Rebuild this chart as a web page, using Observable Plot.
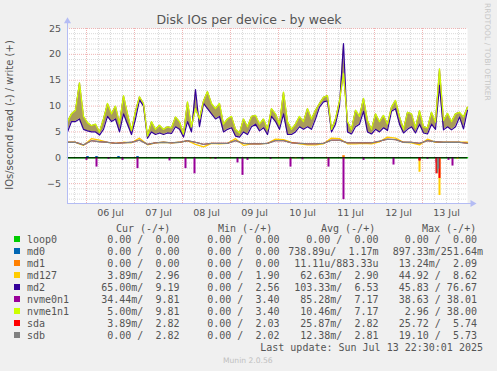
<!DOCTYPE html>
<html><head><meta charset="utf-8">
<script src="https://cdn.jsdelivr.net/npm/d3@7"></script>
<script src="https://cdn.jsdelivr.net/npm/@observablehq/plot@0.6"></script>
<style>
body{margin:0;background:#f0f0f0;}
#wrap{position:relative;width:497px;height:371px;overflow:hidden;background:#f0f0f0;}
#chart{position:absolute;left:0;top:0;}
#over{position:absolute;left:0;top:0;pointer-events:none;}
</style></head><body>
<div id="wrap"><div id="chart"></div><svg id="over" width="497" height="371"></svg></div>
<script>
// ---- time frame ----
const startTime = new Date("2025-07-05T14:30:00Z");
const endTime = new Date("2025-07-13T22:30:00Z");
const writeStepHours = 2;   // sampling of the write series below
const levelStepHours = 4;   // sampling of the ~3 IO/s series

// ---- write (+) series, IOs/second ----
const nvme1n1Write = [7.0,8.5,9.2,14.5,8.0,6.8,6.2,6.5,5.0,7.5,
  10.5,8.5,10.0,6.6,12.0,8.5,5.3,9.0,11.8,10.5,
  4.2,7.0,5.5,6.3,5.5,6.0,5.8,7.9,7.0,4.6,
  10.8,6.0,9.5,7.5,11.0,12.8,10.5,9.5,10.5,6.5,
  7.5,8.0,5.5,4.8,7.5,6.0,8.0,8.2,6.5,7.5,
  5.5,9.5,8.5,6.5,12.7,7.0,5.5,6.5,8.0,7.0,
  9.5,7.5,9.2,10.5,11.7,12.0,5.5,7.5,11.0,16.3,
  7.0,5.5,9.2,8.0,11.5,7.2,5.5,8.5,7.0,8.2,
  6.5,9.8,11.1,8.0,5.5,8.8,8.5,5.8,9.1,6.0,
  5.8,8.8,6.9,17.2,7.2,8.6,7.0,8.5,8.8,7.9,
  9.8];
const nvme0n1Write = nvme1n1Write; // mirrored pair, identical writes
const md2Write = [5.0,7.0,7.0,7.5,5.5,5.2,5.0,5.0,4.4,5.5,
  8.0,7.0,7.5,5.0,8.5,6.5,4.5,7.5,11.2,10.0,
  3.8,5.0,4.5,4.8,4.5,4.8,4.7,6.0,5.5,4.0,
  7.0,5.0,13.2,6.0,10.5,9.5,8.5,7.5,8.0,5.0,
  5.5,5.8,4.2,4.0,5.0,4.5,6.0,6.5,5.2,5.8,
  4.5,8.0,7.0,5.5,8.5,4.5,4.5,5.0,6.0,5.5,
  6.0,5.5,7.5,9.8,10.8,11.0,5.0,6.5,10.0,22.1,
  5.0,4.6,6.0,6.5,9.0,5.0,4.6,5.5,5.0,5.8,
  5.3,9.0,9.5,6.5,4.8,5.5,6.0,4.8,6.5,4.8,
  4.6,6.5,5.5,14.0,5.4,6.0,5.4,6.0,7.9,5.6,
  9.2];
const md127Write = [3.0,3.0,2.4,3.7,3.4,3.0,2.8,3.0,2.9,3.8,
  2.5,2.9,3.0,2.9,3.0,3.3,2.6,2.1,2.8,2.7,
  2.8,3.7,2.4,2.7,2.7,2.8,3.6,3.5,3.0,2.7,
  2.5,2.5,2.7,3.8,3.7,2.7,2.7,2.8,2.7,3.1,
  4.0,3.8,3.0,2.9,2.5,3.6,3.0,3.0,3.0,3.0,
  3.0];
const sdbWrite = [3.0,3.0,2.5,3.3,3.1,3.0,2.8,2.9,3.0,3.4,
  2.6,2.9,3.0,2.9,3.0,3.3,3.0,2.6,2.8,2.8,
  2.8,3.3,2.8,2.7,2.7,2.8,3.3,3.3,2.9,2.8,
  2.7,2.7,2.8,3.4,3.4,2.9,2.9,2.9,2.9,3.2,
  3.6,3.5,3.0,3.0,2.8,3.3,3.1,3.0,3.0,3.0,
  2.8];
const sdaWrite = sdbWrite; // mirrored pair

// ---- sparse spikes (read shown as negative) ----
const nvme0n1ReadTimes = ["2025-07-06T00:00Z","2025-07-06T05:00Z","2025-07-06T11:00Z","2025-07-06T18:00Z","2025-07-07T01:30Z","2025-07-07T17:30Z","2025-07-08T01:30Z","2025-07-08T06:00Z","2025-07-08T16:30Z","2025-07-09T03:30Z","2025-07-09T06:00Z","2025-07-09T08:30Z","2025-07-09T20:00Z","2025-07-10T06:00Z","2025-07-10T12:00Z","2025-07-11T01:00Z","2025-07-11T08:30Z","2025-07-11T18:30Z","2025-07-12T09:30Z","2025-07-12T22:30Z","2025-07-13T02:30Z","2025-07-13T07:00Z","2025-07-13T13:00Z","2025-07-13T15:00Z"];
const nvme0n1ReadValues = [-0.5,-1.8,-0.3,-0.5,-2.1,-0.6,-2.1,-3.1,-0.3,-1.0,-3.4,-0.5,-0.3,-1.8,-0.4,-1.8,-8.1,-0.5,-1.4,-0.6,-0.3,-1.0,-0.5,-1.6];
const md127ReadTimes = ["2025-07-06T05:00Z","2025-07-07T01:30Z","2025-07-08T01:30Z","2025-07-10T06:00Z","2025-07-10T08:30Z","2025-07-11T01:00Z","2025-07-11T08:30Z","2025-07-12T22:30Z","2025-07-13T08:30Z","2025-07-13T17:30Z"];
const md127ReadValues = [-0.3,-0.4,-0.3,-0.4,-0.2,-0.5,-0.4,-2.8,-7.3,-0.3];
const sdaReadTimes = ["2025-07-08T14:00Z","2025-07-12T22:30Z","2025-07-13T07:00Z","2025-07-13T08:30Z"];
const sdaReadValues = [-0.2,-0.6,-3.1,-4.0];
const sdbReadTimes = ["2025-07-13T07:30Z","2025-07-13T08:00Z"];
const sdbReadValues = [-3.0,-2.2];
const md0WriteTimes = ["2025-07-06T00:30Z","2025-07-06T05:00Z","2025-07-06T16:00Z","2025-07-07T01:30Z"];
const md0WriteValues = [0.25,0.25,0.25,0.25];
const md1WriteTimes = ["2025-07-11T08:30Z"];
const md1WriteValues = [0.4];

// ---- axes ----
const yDomain = [-8.84, 25];
const yTicks = [-5, 0, 5, 10, 15, 20, 25];
const dayTicks = ["2025-07-06","2025-07-07","2025-07-08","2025-07-09","2025-07-10","2025-07-11","2025-07-12","2025-07-13"];
const xTickLabels = ["06 Jul","07 Jul","08 Jul","09 Jul","10 Jul","11 Jul","12 Jul","13 Jul"];

// ---- legend ----
const names = ["loop0","md0","md1","md127","md2","nvme0n1","nvme1n1","sda","sdb"];
const colors = ["#00cc00","#0066b3","#ff8000","#ffcc00","#330099","#990099","#ccff00","#ff0000","#808080"];
const curText = ["0.00 /  0.00","0.00 /  0.00","0.00 /  0.00","3.89m/  2.96","65.00m/  9.19","34.44m/  9.81","5.00m/  9.81","3.89m/  2.82","0.00 /  2.82"];
const minText = ["0.00 /  0.00","0.00 /  0.00","0.00 /  0.00","0.00 /  1.90","0.00 /  2.56","0.00 /  3.40","0.00 /  3.40","0.00 /  2.03","0.00 /  2.02"];
const avgText = ["0.00 /  0.00","738.89u/  1.17m","11.11u/883.33u","62.63m/  2.90","103.33m/  6.53","85.28m/  7.17","10.46m/  7.17","25.87m/  2.82","12.38m/  2.81"];
const maxText = ["0.00 /  0.00 ","897.33m/251.64m","13.24m/  2.09 ","44.92 /  8.62 ","45.83 / 76.67 ","38.63 / 38.01 ","2.96 / 38.00 ","25.72 /  5.74 ","19.10 /  5.73 "];
const headers = ["Cur (-/+)","Min (-/+)","Avg (-/+)","Max (-/+)"];

// ---- build tables ----
const hour = 3600e3;
const writeRows = nvme1n1Write.map((v, i) => ({
  t: new Date(startTime.getTime() + i * writeStepHours * hour),
  nvme1n1: v, nvme0n1: nvme0n1Write[i], md2: md2Write[i]
}));
const levelRows = md127Write.map((v, i) => ({
  t: new Date(startTime.getTime() + i * levelStepHours * hour),
  md127: v, sdb: sdbWrite[i], sda: sdaWrite[i]
}));
const spikes = (times, values) => times.map((s, i) => ({t: new Date(s), v: values[i]}));
const midnights = dayTicks.map(d => new Date(d + "T00:00:00Z"));
const noons = dayTicks.map(d => new Date(d + "T12:00:00Z"));
const labelOf = new Map(noons.map((d, i) => [d.getTime(), xTickLabels[i]]));
const sixHours = d3.utcHour.every(6).range(startTime, endTime).filter(d => d.getUTCHours() !== 0);
const minorY = d3.range(-8, 26).filter(v => v % 5 !== 0);
const majorY = yTicks.filter(v => v !== 0);

const grid = "#dadada", red = "#efb4b4";
const chart = Plot.plot({
  width: 497, height: 220,
  marginLeft: 67, marginRight: 30, marginTop: 28, marginBottom: 17,
  style: {background: "transparent", color: "#555", fontFamily: "DejaVu Sans", fontSize: "9.5px"},
  x: {type: "utc", domain: [startTime, endTime]},
  y: {domain: yDomain},
  marks: [
    Plot.frame({fill: "white", stroke: null}),
    Plot.ruleY(minorY, {stroke: grid, strokeDasharray: "1,1"}),
    Plot.ruleX(sixHours, {stroke: grid, strokeDasharray: "1,1"}),
    Plot.ruleY(majorY, {stroke: red, strokeDasharray: "1,1"}),
    Plot.ruleX(midnights, {stroke: red, strokeDasharray: "1,1"}),
    // write side
    Plot.lineY([{t: startTime}, {t: endTime}], {x: "t", y: () => 0, stroke: colors[0]}),
    Plot.ruleX(spikes(md0WriteTimes, md0WriteValues), {x: "t", y1: 0, y2: "v", stroke: colors[1], strokeWidth: 2.5}),
    Plot.ruleX(spikes(md1WriteTimes, md1WriteValues), {x: "t", y1: 0, y2: "v", stroke: colors[2], strokeWidth: 2.5}),
    Plot.lineY(levelRows, {x: "t", y: "md127", stroke: colors[3], strokeWidth: 1.3}),
    Plot.areaY(writeRows, {x: "t", y1: "md2", y2: "nvme1n1", fill: "#a99b5a"}),
    Plot.lineY(writeRows, {x: "t", y: "md2", stroke: colors[4], strokeWidth: 1.2}),
    Plot.lineY(writeRows, {x: "t", y: "nvme0n1", stroke: colors[5], strokeWidth: 1}),
    Plot.lineY(writeRows, {x: "t", y: "nvme1n1", stroke: colors[6], strokeWidth: 1.3}),
    Plot.lineY(levelRows, {x: "t", y: "sda", stroke: colors[7], strokeWidth: 1}),
    Plot.lineY(levelRows, {x: "t", y: "sdb", stroke: colors[8], strokeWidth: 1.3}),
    // read side
    Plot.ruleX(spikes(md127ReadTimes, md127ReadValues), {x: "t", y1: 0, y2: "v", stroke: colors[3], strokeWidth: 2}),
    Plot.ruleX(spikes(nvme0n1ReadTimes, nvme0n1ReadValues), {x: "t", y1: 0, y2: "v", stroke: colors[5], strokeWidth: 2}),
    Plot.ruleX(spikes(sdaReadTimes, sdaReadValues), {x: "t", y1: 0, y2: "v", stroke: colors[7], strokeWidth: 2}),
    Plot.ruleX(spikes(sdbReadTimes, sdbReadValues), {x: "t", y1: 0, y2: "v", stroke: colors[8], strokeWidth: 1.5}),
    Plot.ruleY([0], {stroke: "black", strokeWidth: 1}),
    // axes
    Plot.ruleX([startTime], {y1: yDomain[0], y2: 26.4, stroke: "#b4bcf4"}),
    Plot.ruleY([yDomain[0]], {x1: startTime, x2: new Date(endTime.getTime() + 2.5 * hour), stroke: "#b4bcf4"}),
    Plot.dot([{t: startTime, v: 26.4}], {x: "t", y: "v", symbol: "triangle", r: 2.6, fill: "#b4bcf4", stroke: null}),
    Plot.dot([{t: new Date(endTime.getTime() + 2.5 * hour), v: yDomain[0]}], {x: "t", y: "v", symbol: "triangle", rotate: 90, r: 2.6, fill: "#b4bcf4", stroke: null}),
    Plot.axisY(yTicks, {tickSize: 0, tickPadding: 6.5, label: null}),
    Plot.axisX(noons, {tickSize: 0, tickPadding: 6, label: null, tickFormat: d => labelOf.get(d.getTime())})
  ]
});
document.getElementById("chart").appendChild(chart);

// ---- texts: title, labels, legend ----
const over = d3.select("#over");
const txt = (x, y, s, o = {}) => over.append("text").attr("x", x).attr("y", y)
  .attr("xml:space", "preserve").style("white-space", "pre")
  .attr("font-family", o.font || "DejaVu Sans").attr("font-size", o.size || 10)
  .attr("fill", o.fill || "#555").attr("text-anchor", o.anchor || "start")
  .attr("transform", o.rot ? `rotate(${o.rot},${x},${y})` : null).text(s);

txt(249, 24, "Disk IOs per device - by week", {size: 12.5, anchor: "middle"});
txt(13, 115, "IOs/second read (-) / write (+)", {size: 10, anchor: "middle", rot: -90});
txt(485, 52, "RRDTOOL / TOBI OETIKER", {size: 7.6, anchor: "middle", rot: 90, fill: "#c8c8c8"});

const mono = "DejaVu Sans Mono";
const headerX = [116, 218, 321, 422];
headers.forEach((h, i) => txt(headerX[i], 231.5, h, {font: mono}));
const rowY0 = 243, rowStep = 12;
names.forEach((n, i) => {
  const y = rowY0 + i * rowStep;
  over.append("rect").attr("x", 14).attr("y", y - 7).attr("width", 6).attr("height", 6).attr("fill", colors[i]);
  txt(27, y, n, {font: mono});
  txt(179.5, y, curText[i], {font: mono, anchor: "end"});
  txt(279.5, y, minText[i], {font: mono, anchor: "end"});
  txt(378.5, y, avgText[i], {font: mono, anchor: "end"});
  txt(483, y, maxText[i], {font: mono, anchor: "end"});
});
txt(483, rowY0 + 9 * rowStep, "Last update: Sun Jul 13 22:30:01 2025", {font: mono, anchor: "end"});
txt(223, 363, "Munin 2.0.56", {size: 7.6, fill: "#c0c0c0"});
</script>
</body></html>
